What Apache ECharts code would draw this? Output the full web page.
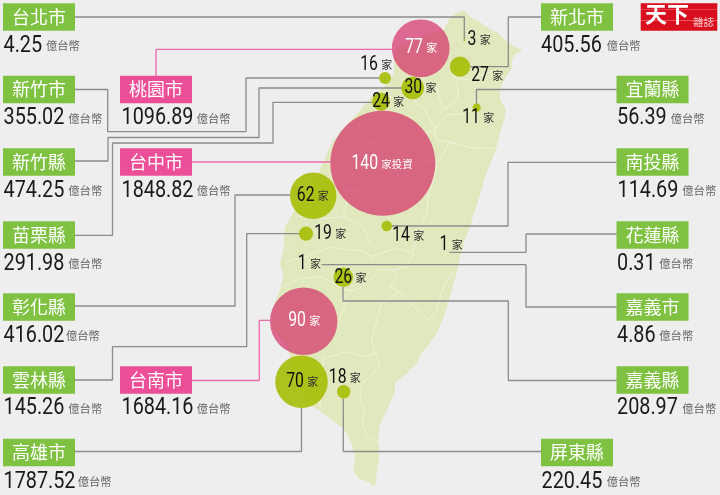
<!DOCTYPE html>
<html>
<head>
<meta charset="utf-8">
<style>
html, body { margin: 0; padding: 0; background: #eeeeee; }
#main { width: 720px; height: 495px; }
</style>
<script src="https://cdn.jsdelivr.net/npm/echarts@6/dist/echarts.min.js"></script>
</head>
<body>
<div id="main"></div>
<script>
// data
var regions = ['台北市', '新北市', '桃園市', '宜蘭縣', '新竹市', '新竹縣', '苗栗縣', '台中市', '南投縣', '花蓮縣', '彰化縣', '雲林縣', '嘉義市', '嘉義縣', '台南市', '高雄市', '屏東縣'];
var amounts = [4.25, 405.56, 1096.89, 56.39, 355.02, 474.25, 291.98, 1848.82, 114.69, 0.31, 416.02, 145.26, 4.86, 208.97, 1684.16, 1787.52, 220.45];
var firms = [3, 27, 77, 11, 16, 30, 24, 140, 14, 1, 62, 19, 1, 26, 90, 70, 18];
var pinkRegions = ['桃園市', '台中市', '台南市'];

// layout, in picture pixels, same order as regions
var boxCentres = [[39, 17], [577, 17], [156, 89.5], [652.5, 89.5], [39, 89.5], [39, 162], [39, 235], [156, 162], [652.5, 162], [652.5, 235], [39, 307], [39, 380], [652.5, 307], [652.5, 380], [156, 380], [39, 452.5], [577, 452.5]];
var amountAnchors = [[3.5, 45.7], [541, 46], [121.5, 118.3], [617, 118.3], [3.5, 118.3], [3.5, 190.7], [3.5, 264], [121.5, 190.7], [617.5, 190.7], [617, 264], [3.5, 336], [3.5, 408.3], [617, 336], [617, 408.3], [121.5, 408.3], [3.5, 481.7], [541.5, 481.7]];
var unitLefts = [46, 606.7, 196.7, 670.7, 68.3, 68.3, 68.3, 196.7, 682.3, 659.3, 66, 68.3, 659.3, 682.3, 196.7, 77.7, 606.7];
var bubbleCentres = [[464.3, 40], [460, 66.7], [420.7, 48.3], [476.7, 107.7], [385, 78], [412.7, 88], [381, 101.7], [382.8, 163.3], [386.7, 226], [449.3, 252.3], [313.2, 195.7], [306, 233.7], [321.7, 264.3], [343.3, 277.3], [303.7, 321.3], [301.5, 381.7], [343.7, 391.7]];
var firmAnchors = [[467.5, 40], [471.2, 76], [405.2, 48], [462.2, 118], [360.2, 65], [404.5, 88], [372.2, 102], [351.5, 164], [392.2, 236], [439.5, 245], [296.8, 196], [314.2, 234], [297.8, 264.3], [334.5, 277.7], [288.2, 321], [286.2, 381.7], [328.8, 377.7]];
var leaders = [
    [[75, 17], [464.3, 17], [464.3, 39]],
    [[541, 17], [508.3, 17], [508.3, 66.7], [470, 66.7]],
    [[156, 75.7], [156, 49.3], [392, 49.3]],
    [[616.7, 89.5], [476.5, 89.5], [476.5, 104]],
    [[75, 89.5], [107.7, 89.5], [107.7, 131.7], [246, 131.7], [246, 78], [379, 78]],
    [[75, 161], [108, 161], [108, 137.5], [259, 137.5], [259, 88], [402, 88]],
    [[75, 235.3], [112.5, 235.3], [112.5, 143], [273, 143], [273, 102.3], [372, 102.3]],
    [[192, 162], [330.3, 162]],
    [[616.7, 162.3], [508, 162.3], [508, 226], [391.7, 226]],
    [[616.7, 234], [526, 234], [526, 252.3], [449.3, 252.3]],
    [[75, 306], [235, 306], [235, 195], [290, 195]],
    [[75, 380], [112.5, 380], [112.5, 346.7], [246.7, 346.7], [246.7, 233.7], [299, 233.7]],
    [[616.7, 307], [526, 307], [526, 264.7], [321.7, 264.7]],
    [[616.7, 380.5], [508.3, 380.5], [508.3, 301], [343, 301], [343, 287]],
    [[192, 380.5], [259.3, 380.5], [259.3, 320.3], [270, 320.3]],
    [[75, 451.5], [301.5, 451.5], [301.5, 407.7]],
    [[541, 451.5], [343.3, 451.5], [343.3, 398.4]]
];

// hand traced island outline and county borders
var island = [[456.7, 12.7], [464, 10], [470, 16.7], [478.3, 20.7], [488.3, 28.3], [498.3, 33.3], [506.7, 41.7], [515, 46.7], [522.7, 50], [515, 54], [511.7, 60], [511.7, 68.3], [505, 78.3], [500, 90], [500, 100], [505.7, 108.3], [505, 116.7], [500, 133.3], [496.7, 146.7], [491.7, 160], [485, 176.7], [481.7, 190], [475, 210], [470, 226.7], [465, 240], [460, 256.7], [456.7, 273.3], [453.3, 283.3], [448.3, 303.3], [441.7, 321.7], [436.7, 333.3], [428.3, 345], [420, 355], [416.7, 363.3], [406.7, 373.3], [395, 383.3], [395, 391.7], [386.7, 410], [379.3, 426.7], [378.3, 440], [379.3, 456.7], [376.7, 473.3], [375, 487.3], [368.3, 481.7], [358.3, 478.3], [353.3, 470], [355, 456.7], [351.7, 443.3], [343.3, 428.3], [330, 418.3], [318.3, 410], [311.7, 405.7], [300, 390], [291.7, 363.3], [289.3, 353.3], [285, 343.3], [271.7, 328.3], [273.3, 306.7], [280, 290], [283.3, 276.7], [280, 263.3], [283.3, 250], [285, 226.7], [296.7, 206.7], [310, 186.7], [320, 170], [333.3, 140], [346.7, 125], [363.3, 106.7], [371.7, 96.7], [383.3, 87.3], [394, 75], [394, 58.3], [396.7, 46.7], [410, 40.7], [426.7, 35], [443.3, 30], [450, 18.3]];
var borders = [
    [[450, 73.3], [456.7, 78.3], [470, 80], [481.7, 75], [493.3, 71.7], [503.3, 76.7]],
    [[436.7, 86.7], [440, 100], [443.3, 110], [453.3, 103.3], [458.3, 96.7], [456.7, 81.7]],
    [[413.3, 100], [425, 110], [435, 128.3], [446.7, 115], [466.7, 113.3], [480, 100]],
    [[435, 128.3], [436.7, 140], [450, 141.7], [460, 145], [473.3, 148.3], [496.7, 148.3]],
    [[335, 140], [343.3, 131.7], [353.3, 140], [373.3, 143.3], [383.3, 146.7], [398.3, 146.7], [413.3, 140], [426.7, 133.3], [436.7, 130]],
    [[323.3, 160], [340, 173.3], [345, 190], [356.7, 191.7], [366.7, 190], [373.3, 180], [386.7, 176.7], [400, 170], [416.7, 163.3], [436.7, 160]],
    [[450, 141.7], [441.7, 156.7], [436.7, 163.3], [435, 173.3], [428.3, 196.7], [426.7, 213.3], [416.7, 233.3], [413.3, 250]],
    [[300, 216.7], [323.3, 218.3], [343.3, 216.7], [346.7, 203.3], [345, 190]],
    [[343.3, 216.7], [363.3, 226.7], [370, 243.3]],
    [[286.7, 261.7], [306.7, 256.7], [330, 246.7], [350, 250], [360, 250], [371.7, 256.7], [380, 253.3], [396.7, 248.3], [413.3, 253.3], [406.7, 266.7], [393.3, 270]],
    [[276.7, 290], [300, 278.3], [320, 276.7], [333.3, 283.3], [343.3, 290], [356.7, 290], [370, 280], [380, 270], [393.3, 270], [396.7, 280], [390, 286.7], [400, 291.7], [410, 303.3], [420, 311.7], [428.3, 320], [436.7, 310], [443.3, 286.7], [453.3, 271.7]],
    [[290, 346.7], [310, 348.3], [323.3, 340], [336.7, 325], [346.7, 303.3], [340, 300], [353.3, 290]],
    [[400, 291.7], [381.7, 303.3], [376.7, 320], [371.7, 340], [375, 353.3], [380, 363.3], [373.3, 373.3], [361.7, 383.3], [360, 400], [365, 410], [361.7, 423.3], [366.7, 436.7], [378.3, 441.7]],
    [[375, 353.3], [363.3, 356.7], [346.7, 351.7], [336.7, 355], [323.3, 358.3], [321.7, 386.7], [320, 406.7]]
];

var cjkFont = '"Noto Sans CJK TC", sans-serif';

function isPink(i) {
    return pinkRegions.indexOf(regions[i]) >= 0;
}

// squeezed Roboto stands in for the narrow DIN style digits
function numText(str, size, fill, squeeze) {
    return {
        type: 'text',
        scaleX: squeeze,
        style: { text: str, fill: fill, font: size + 'px Roboto, sans-serif', textAlign: 'left', textVerticalAlign: 'middle' }
    };
}

var chartDom = document.getElementById('main');
var myChart = echarts.init(chartDom);

var series = [];

// island
series.push({
    type: 'custom',
    silent: true,
    z: 1,
    data: island,
    encode: { x: 0, y: 1 },
    renderItem: function (params, api) {
        if (params.dataIndex !== 0) return null;
        return {
            type: 'polygon',
            shape: { points: island.map(function (p) { return api.coord(p); }) },
            style: { fill: '#e2e8bd' }
        };
    }
});

// county borders
borders.forEach(function (pts) {
    series.push({
        type: 'line',
        silent: true,
        z: 2,
        data: pts,
        showSymbol: false,
        lineStyle: { color: '#f2f5de', width: 0.8 }
    });
});

// leader lines
leaders.forEach(function (pts, i) {
    series.push({
        type: 'line',
        silent: true,
        z: 3,
        data: pts,
        showSymbol: false,
        lineStyle: { color: isPink(i) ? '#ec6aa8' : '#8c8c8c', width: 1.3 }
    });
});

// bubbles, radius follows the number of firms
series.push({
    type: 'scatter',
    silent: true,
    z: 4,
    data: firms.map(function (n, i) {
        return {
            value: [bubbleCentres[i][0], bubbleCentres[i][1], n],
            itemStyle: { opacity: 1, color: isPink(i) ? 'rgba(212,32,95,0.65)' : 'rgba(165,188,0,0.88)' }
        };
    }),
    symbolSize: function (v) { return v[2] * 0.75; }
});

// firm count labels
series.push({
    type: 'custom',
    silent: true,
    z: 5,
    data: firmAnchors,
    encode: { x: 0, y: 1 },
    renderItem: function (params, api) {
        var i = params.dataIndex;
        var pos = api.coord(firmAnchors[i]);
        var n = String(firms[i]);
        var pink = isPink(i);
        return {
            type: 'group',
            x: pos[0],
            y: pos[1],
            children: [
                numText(n, 20.5, pink ? '#fff' : '#111', 0.77),
                {
                    type: 'text',
                    x: n.length * 8.85 + 3.3,
                    style: {
                        text: firms[i] === 140 ? '家投資' : '家',
                        fill: pink ? '#fff' : '#333',
                        font: (firms[i] === 140 ? '10.5' : '11') + 'px ' + cjkFont,
                        textAlign: 'left',
                        textVerticalAlign: 'middle'
                    }
                }
            ]
        };
    }
});

// region boxes
series.push({
    type: 'scatter',
    silent: true,
    z: 6,
    symbol: 'rect',
    symbolSize: [72, 27.7],
    data: regions.map(function (name, i) {
        return {
            value: boxCentres[i],
            itemStyle: { color: isPink(i) ? '#ec4f98' : '#7fc241', opacity: 1 },
            label: {
                show: true,
                position: 'inside',
                formatter: name,
                color: '#fff',
                fontFamily: cjkFont,
                fontSize: 18
            }
        };
    })
});

// amounts
series.push({
    type: 'custom',
    silent: true,
    z: 6,
    data: amountAnchors,
    encode: { x: 0, y: 1 },
    renderItem: function (params, api) {
        var i = params.dataIndex;
        var pos = api.coord(amountAnchors[i]);
        return {
            type: 'group',
            x: pos[0],
            y: pos[1],
            children: [
                numText(amounts[i].toFixed(2), 24, '#1a1a1a', 0.825),
                {
                    type: 'text',
                    x: unitLefts[i] - pos[0],
                    style: {
                        text: '億台幣',
                        fill: '#666',
                        font: '11.3px ' + cjkFont,
                        textAlign: 'left',
                        textVerticalAlign: 'middle'
                    }
                }
            ]
        };
    }
});

var option = {
    backgroundColor: '#eeeeee',
    animation: false,
    grid: { left: 0, right: 0, top: 0, bottom: 0 },
    xAxis: { type: 'value', min: 0, max: 720, show: false },
    yAxis: { type: 'value', min: 0, max: 495, inverse: true, show: false },
    // magazine logo
    graphic: [
        { type: 'rect', z: 10, shape: { x: 640.7, y: 3.3, width: 76.6, height: 27.4 }, style: { fill: '#d90f1e' } },
        { type: 'rect', z: 11, shape: { x: 641, y: 9, width: 76, height: 0.6 }, style: { fill: 'rgba(255,255,255,0.45)' } },
        { type: 'rect', z: 11, shape: { x: 641, y: 20.5, width: 76, height: 0.6 }, style: { fill: 'rgba(255,255,255,0.6)' } },
        { type: 'text', z: 12, style: { x: 645, y: 3, text: '天下', fill: '#fff', font: 'bold 22px "Noto Sans CJK TC", sans-serif' } },
        { type: 'text', z: 12, style: { x: 693, y: 16.5, text: '雜誌', fill: '#f6c9c9', font: '10.5px "Noto Sans CJK TC", sans-serif' } }
    ],
    series: series
};

myChart.setOption(option);
</script>
</body>
</html>
